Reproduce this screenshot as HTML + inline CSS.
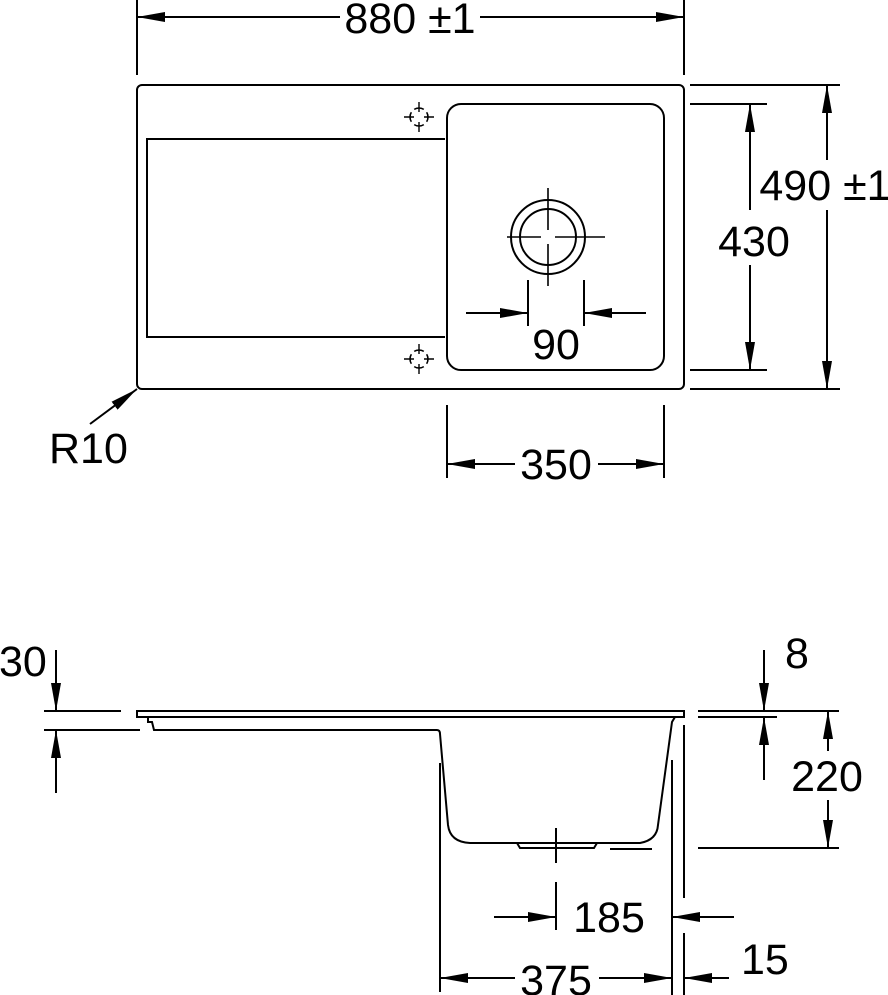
<!DOCTYPE html>
<html><head><style>html,body{margin:0;padding:0;background:#fff}svg{display:block}</style></head><body>
<svg width="888" height="995" viewBox="0 0 888 995" xmlns="http://www.w3.org/2000/svg" font-family="Liberation Sans, sans-serif" font-size="43">
<defs>
<marker id="a" viewBox="0 0 28 10" refX="28" refY="5" markerWidth="28" markerHeight="10" markerUnits="userSpaceOnUse" orient="auto"><path d="M0,0 L28,5 L0,10 Z" fill="#000"/></marker>
</defs>
<g stroke="#000" stroke-width="2" fill="none">
<rect x="137" y="85" width="547" height="304" rx="5"/>
<path d="M445,139 H147 V337 H445"/>
<rect x="447" y="104" width="217" height="266" rx="14"/>
<circle cx="548" cy="237" r="37"/>
<circle cx="548" cy="237" r="28"/>
<path d="M507,237 H541 M555,237 H605 M548,188 V230 M548,244 V286" stroke-width="1.6"/>
<g id="s"><path d="M410,117 a9,9 0 0 1 9,-9 M428,117 a9,9 0 0 0 -9,-9 M410,117 a9,9 0 0 0 9,9 M428,117 a9,9 0 0 1 -9,9" stroke-dasharray="5 4" stroke-width="1.6"/><path d="M404,117 H414 M424,117 H434 M419,102 V112 M419,122 V132" stroke-width="1.4"/></g>
<use href="#s" y="242"/>
<path d="M137,0 V75 M684,0 V75"/>
<line x1="340" y1="17" x2="137" y2="17" marker-end="url(#a)"/>
<line x1="480" y1="17" x2="684" y2="17" marker-end="url(#a)"/>
<path d="M690,104 H767 M690,370 H767 M690,85 H840 M690,389 H840"/>
<line x1="750" y1="210" x2="750" y2="104" marker-end="url(#a)"/>
<line x1="750" y1="265" x2="750" y2="370" marker-end="url(#a)"/>
<line x1="827" y1="160" x2="827" y2="85" marker-end="url(#a)"/>
<line x1="827" y1="210" x2="827" y2="389" marker-end="url(#a)"/>
<path d="M528,280 V326 M584,280 V326"/>
<line x1="466" y1="313" x2="528" y2="313" marker-end="url(#a)"/>
<line x1="646" y1="313" x2="584" y2="313" marker-end="url(#a)"/>
<path d="M447,405 V478 M664,405 V478"/>
<line x1="515" y1="464" x2="447" y2="464" marker-end="url(#a)"/>
<line x1="598" y1="464" x2="664" y2="464" marker-end="url(#a)"/>
<line x1="90" y1="424" x2="137" y2="389" marker-end="url(#a)"/>

<rect x="137" y="711" width="547" height="6" stroke-width="2"/>
<path d="M148,717 V722 H152 L154,730 H437 Q440,730 440,734 L448,825 Q450,842 470,843 L640,843 Q657,840 658,825 L672,722 L675,717"/>
<path d="M517,843 L520,848 H594 L597,843"/>
<path d="M610,849 H652"/>
<path d="M556,828 V863 M556,882 V930"/>
<path d="M440,763 V992 M672,760 V995 M684,725 V898 M684,933 V995"/>
<line x1="494" y1="917" x2="556" y2="917" marker-end="url(#a)"/>
<line x1="734" y1="917" x2="672" y2="917" marker-end="url(#a)"/>
<line x1="515" y1="978" x2="440" y2="978" marker-end="url(#a)"/>
<line x1="599" y1="978" x2="672" y2="978" marker-end="url(#a)"/>
<line x1="729" y1="978" x2="684" y2="978" marker-end="url(#a)"/>
<path d="M44,711 H121 M44,730 H140"/>
<line x1="56" y1="650" x2="56" y2="711" marker-end="url(#a)"/>
<line x1="56" y1="793" x2="56" y2="730" marker-end="url(#a)"/>
<path d="M698,711 H839 M698,717 H777 M698,848 H839"/>
<line x1="764" y1="650" x2="764" y2="711" marker-end="url(#a)"/>
<line x1="764" y1="780" x2="764" y2="717" marker-end="url(#a)"/>
<line x1="828" y1="751" x2="828" y2="711" marker-end="url(#a)"/>
<line x1="828" y1="800" x2="828" y2="848" marker-end="url(#a)"/>
</g>
<g fill="#000">
<text x="410" y="33" text-anchor="middle">880 ±1</text>
<text x="754" y="256" text-anchor="middle">430</text>
<text x="825" y="200" text-anchor="middle">490 ±1</text>
<text x="556" y="359" text-anchor="middle">90</text>
<text x="556" y="479" text-anchor="middle">350</text>
<text x="49" y="463">R10</text>
<text x="-1" y="676">30</text>
<text x="785" y="668">8</text>
<text x="827" y="791" text-anchor="middle">220</text>
<text x="609" y="932" text-anchor="middle">185</text>
<text x="556" y="995" text-anchor="middle">375</text>
<text x="741" y="974">15</text>
</g>
</svg>
</body></html>
